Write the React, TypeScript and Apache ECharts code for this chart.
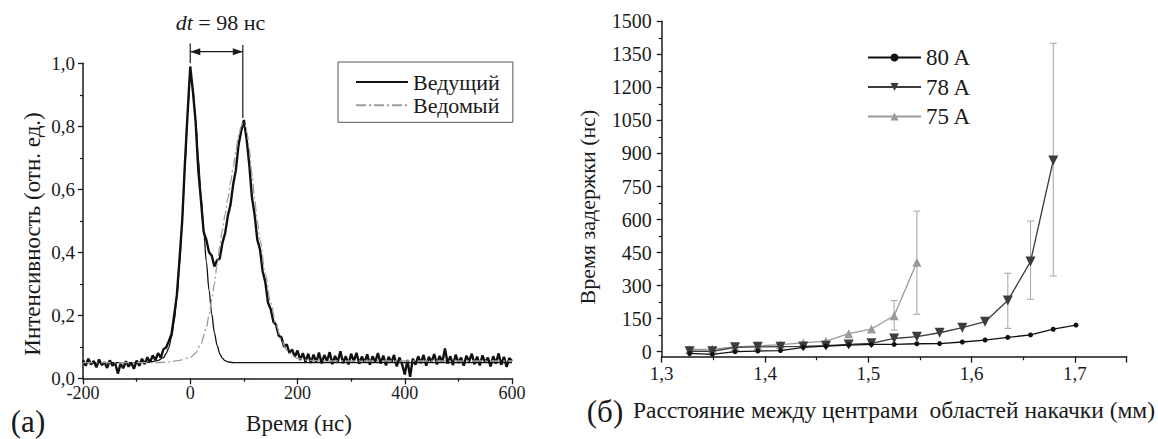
import React, { useEffect, useRef } from "react";
import * as echarts from "echarts";

const FONT = "Liberation Serif";
const INK = "#1a1a1a";

// ---------- panel (a): pulse intensity vs time ----------
const measuredStart = -200; // ns, first sample
const measuredStep = 5; // ns between samples
const measuredIntensity = [
  0.058, 0.04, 0.062, 0.044, 0.055, 0.035, 0.06, 0.042, 0.051, 0.033,
  0.057, 0.04, 0.048, 0.015, 0.046, 0.032, 0.054, 0.037, 0.05, 0.03,
  0.056, 0.04, 0.062, 0.045, 0.067, 0.05, 0.073, 0.058, 0.08, 0.066,
  0.092, 0.098, 0.118, 0.14, 0.2, 0.264, 0.378, 0.5, 0.68, 0.84,
  0.99, 0.91, 0.815, 0.66, 0.565, 0.465, 0.44, 0.4, 0.39, 0.355,
  0.375, 0.38, 0.43, 0.46, 0.515, 0.55, 0.615, 0.66, 0.74, 0.785,
  0.82, 0.76, 0.68, 0.575, 0.52, 0.44, 0.41, 0.34, 0.305, 0.24,
  0.22, 0.18, 0.17, 0.135, 0.13, 0.1, 0.108, 0.08, 0.092, 0.068,
  0.088, 0.058, 0.08, 0.052, 0.078, 0.049, 0.075, 0.05, 0.082, 0.047,
  0.074, 0.055, 0.083, 0.045, 0.071, 0.052, 0.086, 0.048, 0.07, 0.044,
  0.078, 0.054, 0.081, 0.046, 0.069, 0.05, 0.076, 0.043, 0.07, 0.052,
  0.08, 0.047, 0.072, 0.041, 0.068, 0.05, 0.074, 0.038, 0.066, 0.045,
  0.012, 0.058, 0.005, 0.062, 0.043, 0.07, 0.048, 0.074, 0.04, 0.068,
  0.052, 0.077, 0.044, 0.071, 0.05, 0.095, 0.047, 0.07, 0.042, 0.075,
  0.049, 0.066, 0.04, 0.072, 0.053, 0.078, 0.045, 0.069, 0.041, 0.073,
  0.05, 0.066, 0.038, 0.07, 0.047, 0.079, 0.043, 0.068, 0.036, 0.064,
  0.055,
];
const leaderTime = [
  -200, -100, -80, -70, -60, -50, -45, -40, -35, -30, -25, -20, -15, -10, -5, 0, 5, 10, 15, 20,
  25, 30, 35, 40, 45, 50, 55, 60, 65, 70, 80, 100, 200, 400, 600,
];
const leaderIntensity = [
  0.05, 0.05, 0.051, 0.053, 0.057, 0.066, 0.078, 0.098, 0.13, 0.18, 0.255, 0.36, 0.5, 0.67, 0.84,
  0.97, 0.92, 0.82, 0.7, 0.58, 0.47, 0.37, 0.28, 0.205, 0.145, 0.105, 0.078, 0.063, 0.056, 0.052,
  0.05, 0.05, 0.05, 0.05, 0.05,
];
const followerTime = [
  -200, -100, -60, -40, -20, 0, 10, 20, 30, 35, 40, 45, 50, 55, 60, 65, 70, 75, 80, 85, 90, 95, 98,
  102, 106, 110, 115, 120, 125, 130, 140, 150, 160, 170, 180, 190, 200, 220, 250, 300, 600,
];
const followerIntensity = [
  0.05, 0.05, 0.05, 0.052, 0.057, 0.066, 0.08, 0.11, 0.16, 0.2, 0.25, 0.3, 0.36, 0.42, 0.47, 0.52,
  0.57, 0.62, 0.67, 0.72, 0.77, 0.8, 0.81, 0.805, 0.78, 0.73, 0.65, 0.57, 0.5, 0.44, 0.33, 0.24,
  0.17, 0.12, 0.09, 0.072, 0.063, 0.057, 0.055, 0.055, 0.055,
];
const DT_NS = 98;
const dtPeakLevels = [1.0, 0.826]; // where the marker lines meet the two peaks
const dtLineTops = [1.063, 1.058];
const dtArrowLevel = 1.037;
const dtTextLevel = 1.13;

// ---------- panel (б): delay vs distance ----------
const distance = [
  1.327, 1.349, 1.371, 1.393, 1.415, 1.437, 1.459, 1.481, 1.503, 1.525, 1.547, 1.569, 1.591,
  1.613, 1.635, 1.657, 1.679, 1.701,
];
const delay80 = [-8, -12, 0, 3, 5, 20, 25, 30, 33, 33, 36, 37, 44, 53, 65, 76, 102, 121];
const delay78 = [2, 2, 20, 22, 23, 24, 27, 33, 38, 60, 68, 86, 109, 136, 232, 409, 868];
const delay75 = [10, 12, 22, 26, 32, 40, 48, 82, 103, 163, 406];
const err78 = [
  [1.635, 106, 356],
  [1.657, 238, 593],
  [1.679, 344, 1400],
];
const err75 = [
  [1.525, 98, 232],
  [1.547, 170, 638],
];
const delayAxisMin = -22.7;

const comma = (v: number) => v.toFixed(1).replace(".", ",");
const plain = (v: number) => String(Math.round(v));

const axisLine = { show: true, onZero: false, lineStyle: { color: INK, width: 1.5 } };
const tick = (len: number) => ({ show: true, inside: false, length: len, lineStyle: { color: INK, width: 1.3 } });
const minor = (len: number) => ({ show: true, splitNumber: 2, length: len, lineStyle: { color: INK, width: 1.2 } });

export default function App() {
  const ref = useRef<HTMLDivElement>(null);

  useEffect(() => {
    if (!ref.current) return;
    const chart = echarts.init(ref.current, undefined, { renderer: "svg" });

    const measuredData = measuredIntensity.map((v, i) => [measuredStart + i * measuredStep, v]);
    const leaderData = leaderTime.map((t, i) => [t, leaderIntensity[i]]);
    const followerData = followerTime.map((t, i) => [t, followerIntensity[i]]);
    const d80 = delay80.map((v, i) => [distance[i], v]);
    const d78 = delay78.map((v, i) => [distance[i], v]);
    const d75 = delay75.map((v, i) => [distance[i], v]);

    const errRender = (color: string) => (params: any, api: any) => {
      const x = api.value(0);
      const lo = api.coord([x, api.value(1)]);
      const hi = api.coord([x, api.value(2)]);
      const w = 3.5;
      const st = { stroke: color, lineWidth: 1.1 };
      return {
        type: "group",
        children: [
          { type: "line", shape: { x1: lo[0], y1: lo[1], x2: hi[0], y2: hi[1] }, style: st },
          { type: "line", shape: { x1: hi[0] - w, y1: hi[1], x2: hi[0] + w, y2: hi[1] }, style: st },
          { type: "line", shape: { x1: lo[0] - w, y1: lo[1], x2: lo[0] + w, y2: lo[1] }, style: st },
        ],
      };
    };

    const option: any = {
      animation: false,
      backgroundColor: "#ffffff",
      textStyle: { fontFamily: FONT, color: INK },
      grid: [
        { left: 83, top: 63.3, width: 429, height: 315 },
        { left: 661.7, top: 21.3, width: 464.9, height: 335.4 },
        { left: 661.7, top: 21.3, width: 464.9, height: 330.4 },
      ],
      xAxis: [
        {
          type: "value", gridIndex: 0, min: -200, max: 600, interval: 200,
          axisLine, axisTick: tick(6), minorTick: minor(3.5),
          splitLine: { show: false }, minorSplitLine: { show: false },
          axisLabel: { fontFamily: FONT, fontSize: 18, lineHeight: 14, color: INK, margin: 8, formatter: plain },
        },
        {
          type: "value", gridIndex: 1, min: 1.3, max: 1.75, interval: 0.1,
          axisLine, axisTick: tick(6), minorTick: minor(3.5),
          splitLine: { show: false }, minorSplitLine: { show: false },
          axisLabel: { fontFamily: FONT, fontSize: 19, color: INK, margin: 7, formatter: comma, showMaxLabel: false },
        },
        { type: "value", gridIndex: 2, min: 1.3, max: 1.75, show: false },
      ],
      yAxis: [
        {
          type: "value", gridIndex: 0, min: 0, max: 1, interval: 0.2,
          axisLine, axisTick: tick(5), minorTick: minor(3),
          splitLine: { show: false }, minorSplitLine: { show: false },
          axisLabel: { fontFamily: FONT, fontSize: 19, lineHeight: 14, color: INK, margin: 8, formatter: comma },
        },
        {
          type: "value", gridIndex: 1, min: delayAxisMin, max: 1500,
          axisLine, axisTick: { show: false }, axisLabel: { show: false }, splitLine: { show: false },
        },
        {
          type: "value", gridIndex: 2, min: 0, max: 1500, interval: 150,
          axisLine: { show: false }, axisTick: tick(5), minorTick: minor(3),
          splitLine: { show: false }, minorSplitLine: { show: false },
          axisLabel: { fontFamily: FONT, fontSize: 20, color: INK, margin: 10, formatter: plain },
        },
      ],
      legend: [
        {
          data: ["Ведущий", "Ведомый"], orient: "vertical", left: 338, top: 62,
          padding: [9, 13, 6, 17], itemGap: 1.3, itemWidth: 52, itemHeight: 14,
          borderColor: "#555", borderWidth: 1, selectedMode: false,
          itemStyle: { opacity: 0 },
          textStyle: { fontFamily: FONT, fontSize: 22, color: INK, lineHeight: 22 },
        },
        {
          data: ["80 A", "78 A", "75 A"], orient: "vertical", left: 867, top: 46,
          padding: 0, itemGap: 6.5, itemWidth: 53, itemHeight: 10, selectedMode: false,
          textStyle: { fontFamily: FONT, fontSize: 23, color: INK, lineHeight: 22 },
        },
      ],
      series: [
        {
          name: "Измерение", type: "line", xAxisIndex: 0, yAxisIndex: 0, data: measuredData,
          symbol: "none", lineStyle: { color: "#111", width: 2.4 }, itemStyle: { color: "#111" }, z: 2,
        },
        {
          name: "Ведущий", type: "line", xAxisIndex: 0, yAxisIndex: 0, data: leaderData,
          smooth: 0.3, smoothMonotone: "x", symbol: "none",
          lineStyle: { color: "#111", width: 1.3 }, itemStyle: { color: "#111" }, z: 3,
        },
        {
          name: "Ведомый", type: "line", xAxisIndex: 0, yAxisIndex: 0, data: followerData,
          smooth: 0.3, smoothMonotone: "x", symbol: "none",
          lineStyle: { color: "#9d9d9d", width: 1.3, type: [10, 3, 2, 3] }, itemStyle: { color: "#9d9d9d" }, z: 3,
        },
        {
          name: "err75", type: "custom", xAxisIndex: 1, yAxisIndex: 1, data: err75,
          encode: { x: 0, y: [1, 2] }, renderItem: errRender("#acacac"), z: 1,
        },
        {
          name: "err78", type: "custom", xAxisIndex: 1, yAxisIndex: 1, data: err78,
          encode: { x: 0, y: [1, 2] }, renderItem: errRender("#acacac"), z: 1,
        },
        {
          name: "75 A", type: "line", xAxisIndex: 1, yAxisIndex: 1, data: d75,
          symbol: "triangle", symbolSize: 9,
          lineStyle: { color: "#9a9a9a", width: 1.3 }, itemStyle: { color: "#9a9a9a" }, z: 3,
        },
        {
          name: "78 A", type: "line", xAxisIndex: 1, yAxisIndex: 1, data: d78,
          symbol: "triangle", symbolRotate: 180, symbolSize: 10,
          lineStyle: { color: "#3c3c3c", width: 1.3 }, itemStyle: { color: "#3c3c3c" }, z: 4,
        },
        {
          name: "80 A", type: "line", xAxisIndex: 1, yAxisIndex: 1, data: d80,
          symbol: "circle", symbolSize: 5,
          lineStyle: { color: "#111", width: 1.3 }, itemStyle: { color: "#111" }, z: 5,
        },
      ],
    };
    chart.setOption(option);

    const px = (t: number, v: number) => chart.convertToPixel({ gridIndex: 0 }, [t, v]) as number[];
    const a0 = px(0, dtLineTops[0]);
    const a0b = px(0, dtPeakLevels[0]);
    const a1 = px(DT_NS, dtLineTops[1]);
    const a1b = px(DT_NS, dtPeakLevels[1]);
    const ya = px(0, dtArrowLevel)[1];
    const yt = px(0, dtTextLevel)[1];
    const x0 = a0[0];
    const x1 = a1[0];
    const ink = { stroke: INK, lineWidth: 1.2 };
    const txt = (text: string, x: number, y: number, size: number, extra: any = {}) => ({
      type: "text", x, y, ...extra,
      style: { text, fontFamily: FONT, fontSize: size, fill: INK, align: "center", verticalAlign: "middle" },
    });

    chart.setOption({
      graphic: [
        { type: "line", shape: { x1: x0, y1: a0[1], x2: x0, y2: a0b[1] }, style: ink },
        { type: "line", shape: { x1: x1, y1: a1[1], x2: x1, y2: a1b[1] }, style: ink },
        { type: "line", shape: { x1: x0, y1: ya, x2: x1, y2: ya }, style: ink },
        { type: "polygon", shape: { points: [[x0, ya], [x0 + 10, ya - 3.5], [x0 + 10, ya + 3.5]] }, style: { fill: INK } },
        { type: "polygon", shape: { points: [[x1, ya], [x1 - 10, ya - 3.5], [x1 - 10, ya + 3.5]] }, style: { fill: INK } },
        {
          type: "text", x: (x0 + x1) / 2 + 4, y: yt,
          style: {
            text: `{i|dt} = ${DT_NS} нс`, fontFamily: FONT, fontSize: 22, fill: INK,
            align: "center", verticalAlign: "middle",
            rich: { i: { fontStyle: "italic", fontFamily: FONT, fontSize: 22, fill: INK } },
          },
        },
        txt("Время (нс)", 299, 423, 23),
        txt("Интенсивность (отн. ед.)", 32, 234, 23, { rotation: Math.PI / 2 }),
        txt("(a)", 28, 421, 31),
        txt("Время задержки (нс)", 587, 207, 22, { rotation: Math.PI / 2 }),
        txt("(б)", 605, 411, 31),
        {
          type: "text", x: 633, y: 410,
          style: { text: "Расстояние между центрами  областей накачки (мм)", fontFamily: FONT, fontSize: 23.5, fill: INK, align: "left", verticalAlign: "middle" },
        },
      ],
    });

    return () => chart.dispose();
  }, []);

  return <div ref={ref} style={{ position: "fixed", left: 0, top: 0, width: 1158, height: 439, background: "#fff" }} />;
}
